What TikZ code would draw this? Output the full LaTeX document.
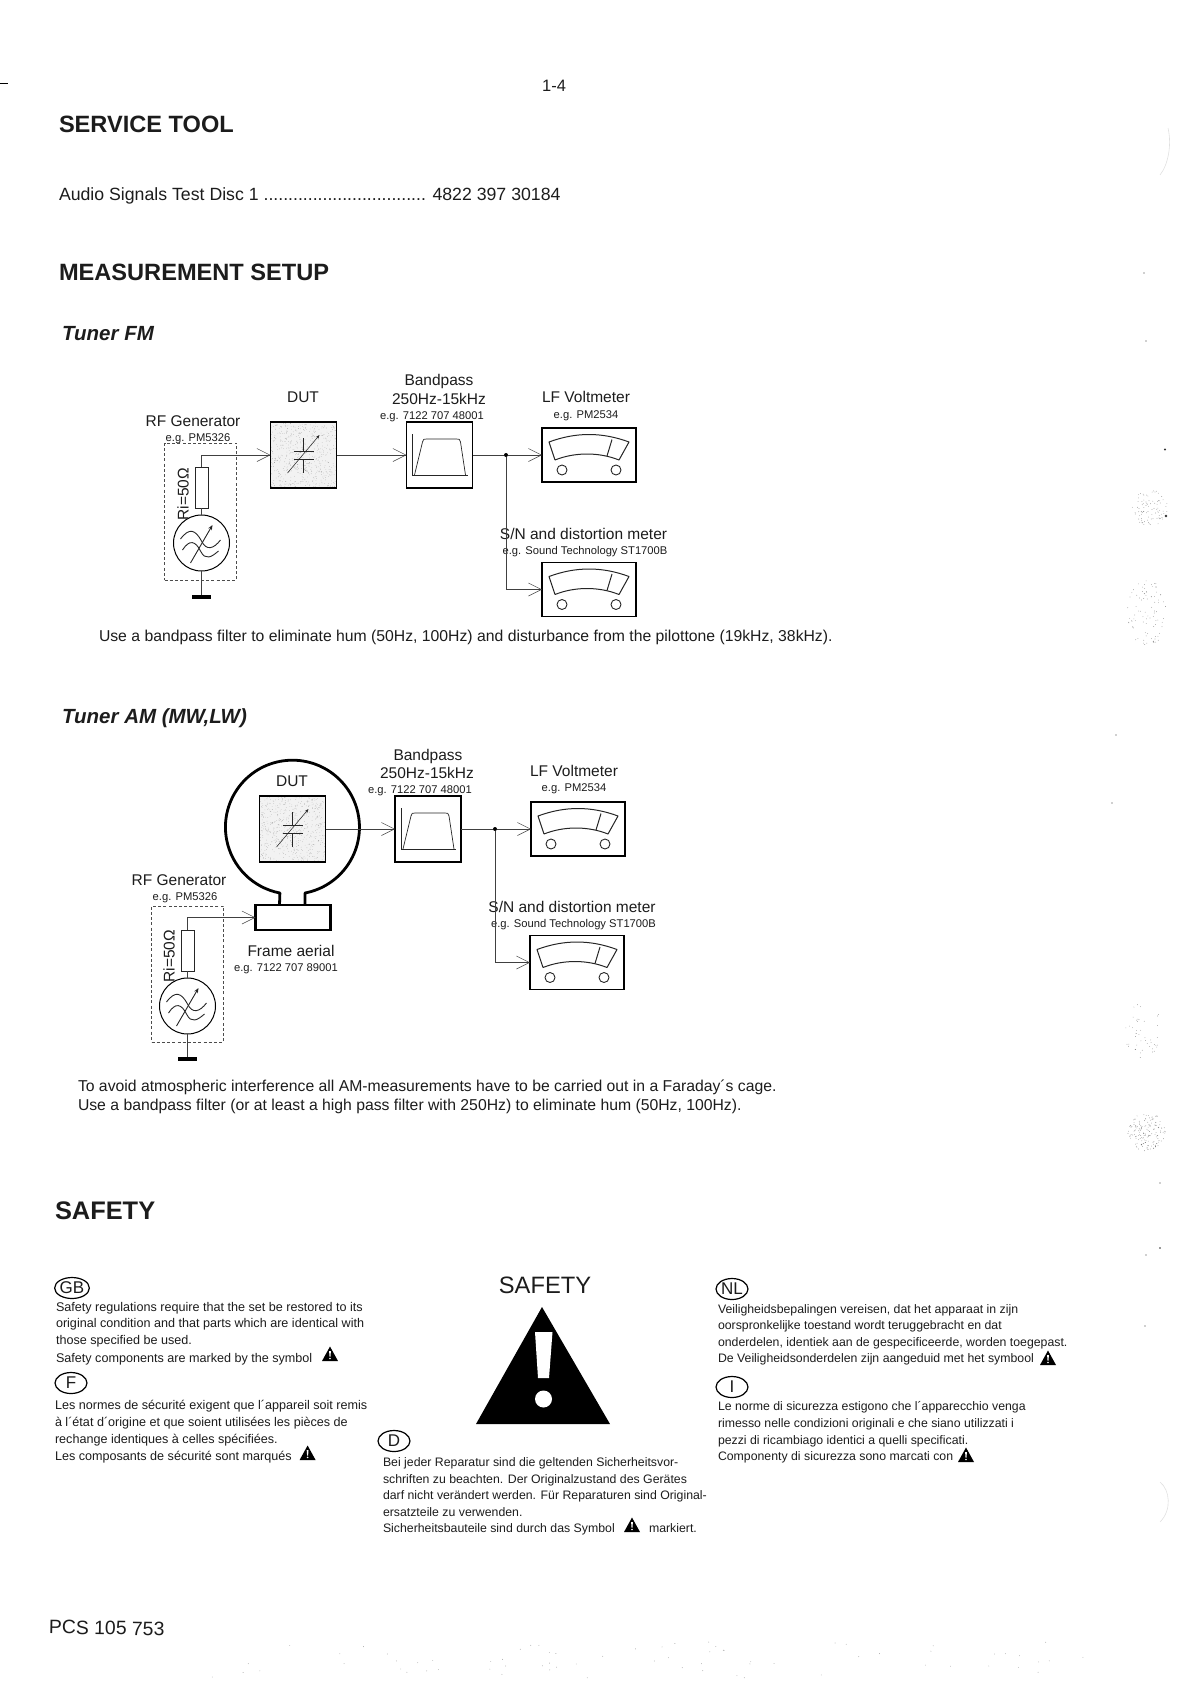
\documentclass[tikz,border=0pt]{standalone}
\usepackage{fontspec}
\setmainfont{Liberation Sans}
\usetikzlibrary{arrows.meta,shapes.geometric}
\definecolor{ink}{HTML}{1C1C1C}
\newcommand{\fsz}[1]{\fontsize{#1}{#1}\selectfont}
\tikzset{
  txt/.style={inner sep=0pt,outer sep=0pt,text=ink,anchor=mid},
  left text/.style={txt,anchor=mid west},
  headtxt/.style={left text,yshift=-6.4pt},
  subhead/.style={left text,yshift=-5.4pt,font=\fsz{20.5}\bfseries\itshape},
  bodytxt/.style={left text,yshift=-4.3pt,font=\fsz{15.75}},
  safetxt/.style={left text,yshift=-2.6pt,font=\fsz{12.3}},
  safewide/.style={left text,yshift=-2.6pt,font=\fsz{12.6}},
  labelbig/.style={txt,yshift=-3.2pt,font=\fsz{15.5}},
  labelsmall/.style={txt,yshift=-3pt,font=\fsz{11.2}},
  blockbox/.style={draw=black,line width=1.8pt,inner sep=0pt,outer sep=0pt,minimum width=66pt,minimum height=66pt},
  meterbox/.style={draw=black,line width=1.5pt,inner sep=0pt,outer sep=0pt,minimum width=94pt,minimum height=54pt},
  genbox/.style={draw=black!70,line width=.6pt,dash pattern=on 3pt off 2.2pt,inner sep=0pt,minimum width=72pt},
  resbox/.style={draw=black!85,line width=.7pt,inner sep=0pt,outer sep=0pt,minimum width=13pt,minimum height=41pt},
  gencircle/.style={draw=black,line width=1pt,circle,inner sep=0pt,outer sep=0pt,minimum size=56pt},
  gndbar/.style={fill=black,inner sep=0pt,outer sep=0pt,minimum width=19pt,minimum height=3.6pt},
  junction/.style={fill=black,circle,inner sep=0pt,outer sep=0pt,minimum size=4pt},
  wire/.style={draw=black!75,line width=.65pt},
  feed/.style={wire,-{Straight Barb[length=13pt,width=13pt,line width=.55pt]}},
  sym/.style={line width=.7pt,draw=black!85},
  lang/.style={draw=black,line width=1.2pt,ellipse,inner sep=0pt,outer sep=0pt,minimum width=32pt,minimum height=21pt,font=\fsz{17},text=ink},
  speck/.style={fill=black!55},
}
\newcommand{\warnmark}[2]{%
  \fill[black] (#1-8,#2+7) -- (#1,#2-7.5) -- (#1+8,#2+7) -- cycle;
  \fill[white] (#1-.9,#2-3) -- (#1+.9,#2-3) -- (#1+.5,#2+2.5) -- (#1-.5,#2+2.5) -- cycle;
  \fill[white] (#1,#2+4.4) circle (.9);}
\newcommand{\meterunit}[3]{%
  \node[meterbox] (#1) at (#2,#3) {};
  \begin{scope}[shift={(#2,#3)}]
    \draw[sym,line width=1pt,line join=round] (-34,5) -- (-40,-13) .. controls (-13,-23) and (13,-23) .. (40,-13) -- (30,5) .. controls (10,-3) and (-14,-3) .. (-34,5);
    \draw[sym,line width=1pt] (23,-15.5) -- (18,1);
    \draw[sym,line width=.9pt] (-27,15) circle (5) (27,15) circle (5);
  \end{scope}}
\newcommand{\filterbox}[3]{%
  \node[blockbox] (#1) at (#2,#3) {};
  \begin{scope}[shift={(#2,#3)}]
    \draw[sym] (-27,-21) -- (-27,20) -- (28,20);
    \draw[sym,line join=round] (-25,20) -- (-17,-13) .. controls (-16,-16) .. (-13,-16) -- (17,-16) .. controls (20,-16) .. (21,-13) -- (26,20);
  \end{scope}}
\newcommand{\dutbox}[3]{%
  \fill[gray!10] (#2-33,#3-33) rectangle (#2+33,#3+33);
  \fill[black!40] \foreach \i in {1,...,600} { ({#2-33+66*rnd},{#3-33+66*rnd}) circle (.28) };
  \node[blockbox] (#1) at (#2,#3) {};
  \begin{scope}[shift={(#2,#3)}]
    \draw[sym,line width=.9pt] (-10,-4) -- (10,-4) (-10,4) -- (10,4) (0,-17) -- (0,-4) (0,4) -- (0,18);
    \draw[sym,line width=.55pt,-{Stealth[length=4pt,width=3pt]}] (-16,18) -- (16,-20);
  \end{scope}}
\newcommand{\genunit}[6]{% prefix, x, y of resistor centre, y of circle, y of wire, y of bar
  \node[resbox] (#1res) at (#2,#3) {};
  \node[gencircle] (#1gen) at (#2,#4) {};
  \node[gndbar] (#1gnd) at (#2,#6) {};
  \draw[wire] (#1res.south) -- (#1gen.north);
  \draw[wire] (#1gen.south) -- (#1gnd.north);
  \begin{scope}[shift={(#2,#4)}]
    \draw[sym,line width=.9pt] (-21,-4) .. controls (-12,-16) and (-6,-13) .. (0,-2) .. controls (5,8) and (12,6) .. (19,-3);
    \draw[sym,line width=.9pt] (-19,7) .. controls (-12,-4) and (-6,-2) .. (-1,8) .. controls (4,18) and (10,14) .. (17,8);
    \draw[sym,line width=.9pt,-{Stealth[length=5pt,width=4pt]}] (-11,20) -- (11,-18);
  \end{scope}}
\newcommand{\speckle}[5]{% x, y, rx, ry, count
  \fill[speck] \foreach \i in {1,...,#5} {
    [/utils/exec={\pgfmathsetmacro{\ang}{360*rnd}\pgfmathsetmacro{\rad}{sqrt(rnd)}}]
    ({#1+#3*\rad*cos(\ang)},{#2+#4*\rad*sin(\ang)}) circle (.35) };}
\begin{document}
\begin{tikzpicture}[x=1pt,y=-1pt]
\useasboundingbox (0,0) rectangle (1191,1683);
\pgfmathsetseed{7}
% scan marks in the margins
\speckle{1150}{508}{18}{18}{90}
\speckle{1147}{613}{20}{33}{90}
\speckle{1143}{1030}{18}{32}{45}
\speckle{1147}{1132}{19}{19}{160}
\fill[black!80] (1166,516) circle (1.3) (1165,449.5) circle (1.2) (1144,273) circle (.6) (1146,341) circle (.6) (1116,735) circle (.7) (1112,803) circle (.7) (1160,1183) circle (.6) (1146,1255) circle (.6) (1160,1248) circle (.8) (1145,1326) circle (.6);
\draw[black!12,line width=.6pt] (1168,128) .. controls (1172,145) and (1168,165) .. (1160,175);
\draw[black!12,line width=.6pt] (1160,1482) .. controls (1170,1490) and (1172,1510) .. (1160,1522);
\fill[black!35] \foreach \i in {1,...,70} { ({200+900*rnd},{1642+36*rnd}) circle (.45) };
% page heads
\coordinate (ma) at (0,83); \coordinate (mb) at (8,83);
\draw[black,line width=.7pt] (ma) -- (mb);
\node[txt,yshift=-3pt,font=\fsz{16.5}] (pageno) at (554,86) {1-4};
\node[headtxt,font=\fsz{23.6}\bfseries] (h1) at (59,123) {SERVICE TOOL};
\node[bodytxt,font=\fsz{17.7}] (disc) at (59,194) {Audio Signals Test Disc 1 ................................. 4822 397 30184};
\node[headtxt,font=\fsz{23.6}\bfseries] (h2) at (59,271) {MEASUREMENT SETUP};
\node[subhead] (fm) at (62,332) {Tuner FM};
% ---------- FM ----------
\node[labelbig] (tb1) at (439,380) {Bandpass};
\node[labelbig] (tb2) at (439,399) {250Hz-15kHz};
\node[labelsmall] (tb3) at (432,414) {e.g. 7122 707 48001};
\node[labelbig] (tdut) at (303,397) {DUT};
\node[labelbig] (trf) at (193,421) {RF Generator};
\node[labelsmall] (trf2) at (198,436) {e.g. PM5326};
\node[labelbig] (tlf) at (586,397) {LF Voltmeter};
\node[labelsmall] (tlf2) at (586,413) {e.g. PM2534};
\node[labelbig] (tsn) at (583.5,534) {S/N and distortion meter};
\node[labelsmall] (tsn2) at (585,549) {e.g. Sound Technology ST1700B};
\node[genbox,minimum height=137pt] (fbox) at (200.5,511.5) {};
\genunit{f}{201.5}{487.5}{543}{456}{597}
\node[labelbig,rotate=90] (tri) at (186,491) {Ri=50Ω};
\dutbox{fdut}{303.5}{455}
\filterbox{fbp}{439.5}{455}
\meterunit{fv1}{589}{455}
\meterunit{fv2}{589}{589.5}
\node[junction] (fj) at (506,455) {};
\draw[feed] (fres.north) |- (fdut.west);
\draw[feed] (fdut.east) -- (fbp.west);
\draw[wire] (fbp.east) -- (fj);
\draw[feed] (fj) -- (fv1.west);
\draw[feed] (fj) |- (fv2.west);
\node[bodytxt] (fnote) at (99,635) {Use a bandpass filter to eliminate hum (50Hz, 100Hz) and disturbance from the pilottone (19kHz, 38kHz).};
% ---------- AM ----------
\node[subhead] (am) at (62,715) {Tuner AM (MW,LW)};
\node[labelbig] (ab1) at (428,755) {Bandpass};
\node[labelbig] (ab2) at (427,773) {250Hz-15kHz};
\node[labelsmall] (ab3) at (420,788) {e.g. 7122 707 48001};
\node[labelbig] (adut) at (292,781) {DUT};
\node[labelbig] (arf) at (179,880) {RF Generator};
\node[labelsmall] (arf2) at (185,895) {e.g. PM5326};
\node[labelbig] (alf) at (574,771) {LF Voltmeter};
\node[labelsmall] (alf2) at (574,786) {e.g. PM2534};
\node[labelbig] (asn) at (572,907) {S/N and distortion meter};
\node[labelsmall] (asn2) at (573.5,922) {e.g. Sound Technology ST1700B};
\node[labelbig] (afr) at (291,951) {Frame aerial};
\node[labelsmall] (afr2) at (286,966) {e.g. 7122 707 89001};
\node[genbox,minimum height=136pt] (abox) at (187.5,974) {};
\genunit{a}{187.5}{950.5}{1006}{918}{1059}
\node[labelbig,rotate=90] (ari) at (172,953) {Ri=50Ω};
\dutbox{adut2}{292.5}{829}
\filterbox{abp}{428}{829}
\meterunit{av1}{578}{829}
\meterunit{av2}{577}{962.5}
\node[draw=black,line width=2.6pt,inner sep=0pt,outer sep=0pt,minimum width=75pt,minimum height=25pt] (frame) at (293,917.5) {};
\draw[black,line width=2.8pt,line join=round] (305,905) -- (305,893) arc[start angle=79.2,end angle=-259.2,x radius=67,y radius=67] -- (279.5,905);
\node[junction] (aj) at (495,829) {};
\draw[feed] (ares.north) |- (frame.west);
\draw[feed] (adut2.east) -- (abp.west);
\draw[wire] (abp.east) -- (aj);
\draw[feed] (aj) -- (av1.west);
\draw[feed] (aj) |- (av2.west);
\node[bodytxt] (an1) at (78,1085) {To avoid atmospheric interference all AM-measurements have to be carried out in a Faraday´s cage.};
\node[bodytxt] (an2) at (78,1104) {Use a bandpass filter (or at least a high pass filter with 250Hz) to eliminate hum (50Hz, 100Hz).};
% ---------- SAFETY ----------
\node[headtxt,font=\fsz{25.4}\bfseries] (h3) at (55,1210) {SAFETY};
\node[txt,yshift=-5.4pt,font=\fsz{23.7}] (sf) at (545,1285) {SAFETY};
\fill[black] (476,1424) -- (542,1307) -- (610,1424) -- cycle;
\fill[white] (535,1332) -- (552.5,1332) -- (549,1378) -- (538,1378) -- cycle;
\fill[white] (543.5,1399) circle (8.5);
\node[lang] (gb) at (72,1288) {GB};
\node[safewide] at (56,1306) {Safety regulations require that the set be restored to its};
\node[safewide] at (56,1322) {original condition and that parts which are identical with};
\node[safewide] at (56,1339) {those specified be used.};
\node[safewide] at (56,1357) {Safety components are marked by the symbol};
\warnmark{330}{1354}
\node[lang] (fr) at (71,1383) {F};
\node[safewide] at (55,1404) {Les normes de sécurité exigent que l´appareil soit remis};
\node[safewide] at (55,1421) {à l´état d´origine et que soient utilisées les pièces de};
\node[safewide] at (55,1438) {rechange identiques à celles spécifiées.};
\node[safewide] at (55,1455) {Les composants de sécurité sont marqués};
\warnmark{307.6}{1453}
\node[lang] (de) at (394,1441) {D};
\node[safetxt] at (383,1461) {Bei jeder Reparatur sind die geltenden Sicherheitsvor-};
\node[safetxt] at (383,1478) {schriften zu beachten. Der Originalzustand des Gerätes};
\node[safetxt] at (383,1494) {darf nicht verändert werden. Für Reparaturen sind Original-};
\node[safetxt] at (383,1511) {ersatzteile zu verwenden.};
\node[safetxt] at (383,1527) {Sicherheitsbauteile sind durch das Symbol};
\warnmark{632}{1525}
\node[safetxt] at (649,1527) {markiert.};
\node[lang] (nl) at (732,1289) {NL};
\node[safetxt] at (718,1308) {Veiligheidsbepalingen vereisen, dat het apparaat in zijn};
\node[safetxt] at (718,1324) {oorspronkelijke toestand wordt teruggebracht en dat};
\node[safetxt] at (718,1341) {onderdelen, identiek aan de gespecificeerde, worden toegepast.};
\node[safetxt] at (718,1357) {De Veiligheidsonderdelen zijn aangeduid met het symbool};
\warnmark{1048}{1358}
\node[lang] (it) at (732,1387) {I};
\node[safetxt] at (718,1405) {Le norme di sicurezza estigono che l´apparecchio venga};
\node[safetxt] at (718,1422) {rimesso nelle condizioni originali e che siano utilizzati i};
\node[safetxt] at (718,1439) {pezzi di ricambiago identici a quelli specificati.};
\node[safetxt] at (718,1455) {Componenty di sicurezza sono marcati con};
\warnmark{966}{1455}
\node[left text,yshift=-3pt,font=\fsz{19.4},rotate=-1] (pcs) at (49,1628) {PCS 105 753};
\end{tikzpicture}
\end{document}
